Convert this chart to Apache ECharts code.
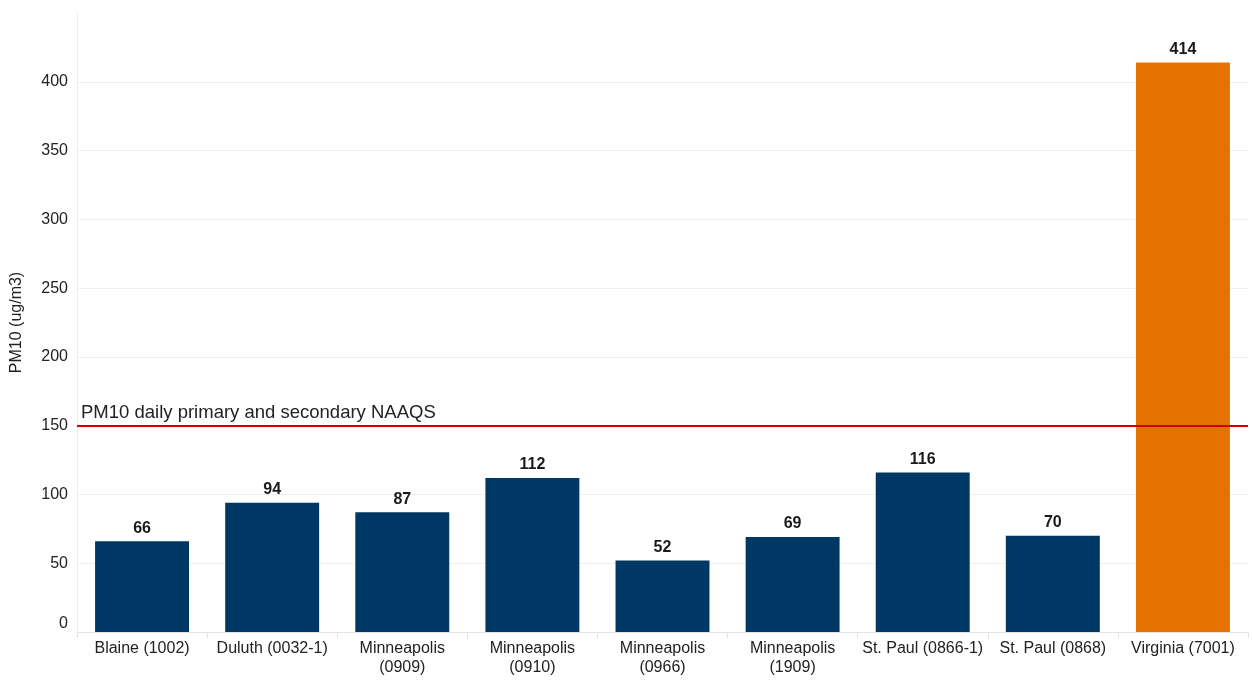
<!DOCTYPE html>
<html>
<head>
<meta charset="utf-8">
<script src="https://cdn.jsdelivr.net/npm/echarts@6/dist/echarts.min.js"></script>
<style>html,body{margin:0;padding:0;background:#fff}#c{width:1252px;height:683px}</style>
</head>
<body>
<div id="c"></div>
<script>
const categories = ["Blaine (1002)", "Duluth (0032-1)", "Minneapolis\n(0909)", "Minneapolis\n(0910)", "Minneapolis\n(0966)", "Minneapolis\n(1909)", "St. Paul (0866-1)", "St. Paul (0868)", "Virginia (7001)"];
const pm10Values = [66, 94, 87, 112, 52, 69, 116, 70, 414];
const exceedsStandard = [false, false, false, false, false, false, false, false, true];
const naaqsValue = 150;
const naaqsLabel = "PM10 daily primary and secondary NAAQS";
const yTicks = [0, 50, 100, 150, 200, 250, 300, 350, 400];

const FONT = "Arial, 'Liberation Sans', sans-serif";
const chart = echarts.init(document.getElementById('c'), null, {renderer: 'canvas'});
const gridColors = yTicks.map(() => '#efefef').concat(['rgba(0,0,0,0)']);
chart.setOption({
  animation: false,
  grid: {left: 77, right: 4, top: 13, bottom: 51, containLabel: false},
  xAxis: {
    type: 'category',
    data: categories,
    axisLine: {lineStyle: {color: '#e3e3e3', width: 1}},
    axisTick: {show: true, length: 6, lineStyle: {color: '#e3e3e3'}},
    axisLabel: {color: '#222', fontSize: 16, fontFamily: FONT, margin: 7, lineHeight: 19, interval: 0}
  },
  yAxis: {
    type: 'value',
    min: 0, max: 450, interval: 50,
    name: 'PM10 (ug/m3)',
    nameLocation: 'middle',
    nameGap: 52,
    nameTextStyle: {color: '#222', fontSize: 16, fontFamily: FONT},
    axisLine: {show: true, lineStyle: {color: '#ececec'}},
    axisTick: {show: false},
    splitLine: {show: true, lineStyle: {color: gridColors, width: 1}},
    axisLabel: {
      color: '#222', fontSize: 16, fontFamily: FONT, margin: 9,
      showMaxLabel: false,
      formatter: v => v === 0 ? '{z|0}' : (yTicks.indexOf(v) >= 0 ? String(v) : ''),
      rich: {z: {fontSize: 16, fontFamily: FONT, color: '#222', padding: [0, 0, 16, 0]}}
    }
  },
  series: [{
    type: 'bar',
    data: pm10Values.map((v, i) => ({value: v, itemStyle: {color: exceedsStandard[i] ? '#E57200' : '#003865'}})),
    barCategoryGap: '27.8%',
    label: {show: true, position: 'top', distance: 5, color: '#1a1a1a', fontWeight: 'bold', fontSize: 16, fontFamily: FONT},
    markLine: {
      silent: true,
      symbol: ['none', 'none'],
      lineStyle: {color: '#cc0000', width: 2, type: 'solid'},
      label: {show: true, position: 'insideStartTop', formatter: naaqsLabel, color: '#222', fontSize: 18.5, fontFamily: FONT, distance: [4, 3]},
      data: [{yAxis: naaqsValue}]
    }
  }]
});
</script>
</body>
</html>
